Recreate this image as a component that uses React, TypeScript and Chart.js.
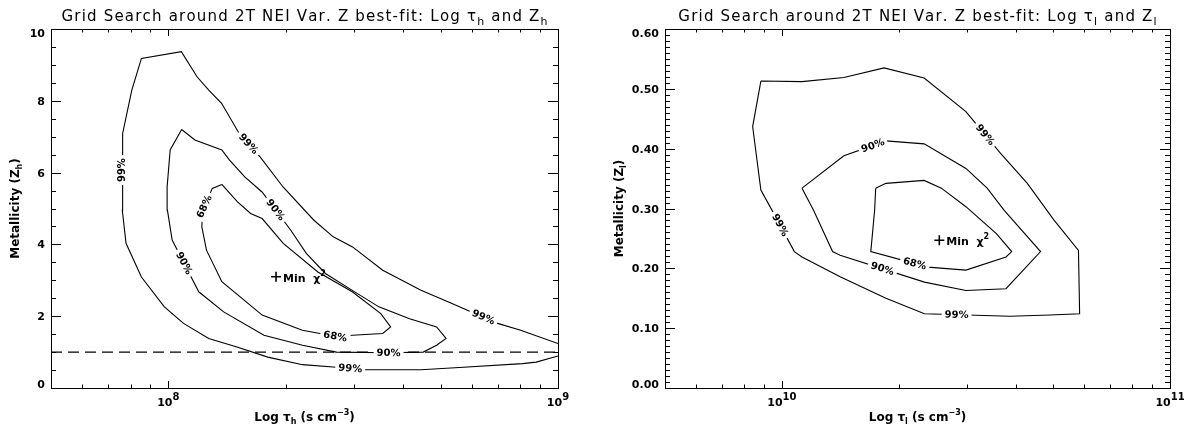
import React, { useEffect, useRef } from "react";
import { Chart, registerables } from "chart.js";
Chart.register(...registerables);

type P = { x: number; y: number };
type Seg = { t: string; s?: "sub" | "sup" };
type CLabel = { ds: number; x: number; y: number; t: string; up?: boolean };

const FONT = '"DejaVu Sans", "Liberation Sans", sans-serif';

// ---------- Left panel: hot component (tau_h, Z_h) ----------
const hot99: P[] = [
  { x: 1.0e9, y: 0.89 }, { x: 8.79e8, y: 0.72 }, { x: 8.11e8, y: 0.68 }, { x: 5.58e8, y: 0.57 },
  { x: 4.45e8, y: 0.51 }, { x: 3.21e8, y: 0.51 }, { x: 2.7e8, y: 0.58 }, { x: 2.21e8, y: 0.65 },
  { x: 1.8e8, y: 0.86 }, { x: 1.5e8, y: 1.14 }, { x: 1.27e8, y: 1.38 }, { x: 1.094e8, y: 1.8 },
  { x: 9.77e7, y: 2.26 }, { x: 8.53e7, y: 3.09 }, { x: 7.79e7, y: 4.03 }, { x: 7.62e7, y: 4.95 },
  { x: 7.62e7, y: 6.16 }, { x: 7.65e7, y: 7.09 }, { x: 8.06e7, y: 8.3 }, { x: 8.53e7, y: 9.18 },
  { x: 1.08e8, y: 9.37 }, { x: 1.185e8, y: 8.67 }, { x: 1.27e8, y: 8.3 }, { x: 1.37e8, y: 7.93 },
  { x: 1.52e8, y: 7.09 }, { x: 1.72e8, y: 6.44 }, { x: 1.97e8, y: 5.6 }, { x: 2.36e8, y: 4.68 },
  { x: 2.65e8, y: 4.21 }, { x: 2.97e8, y: 3.93 }, { x: 3.55e8, y: 3.28 }, { x: 4.45e8, y: 2.72 },
  { x: 5.22e8, y: 2.4 }, { x: 7.0e8, y: 1.8 }, { x: 8.02e8, y: 1.61 }, { x: 1.0e9, y: 1.24 },
];
const hot90: P[] = [
  { x: 1.082e8, y: 7.2 }, { x: 1.17e8, y: 6.91 }, { x: 1.372e8, y: 6.63 }, { x: 1.436e8, y: 6.35 },
  { x: 1.571e8, y: 5.88 }, { x: 1.74e8, y: 5.46 }, { x: 2.06e8, y: 4.4 }, { x: 2.26e8, y: 3.75 },
  { x: 2.53e8, y: 3.19 }, { x: 2.965e8, y: 2.72 }, { x: 3.47e8, y: 2.26 }, { x: 4.16e8, y: 1.93 },
  { x: 4.88e8, y: 1.7 }, { x: 5.16e8, y: 1.38 }, { x: 4.88e8, y: 1.19 }, { x: 4.51e8, y: 1.0 },
  { x: 3.68e8, y: 0.98 }, { x: 2.7e8, y: 1.0 }, { x: 2.21e8, y: 1.19 }, { x: 1.76e8, y: 1.47 },
  { x: 1.387e8, y: 2.12 }, { x: 1.197e8, y: 2.68 }, { x: 1.023e8, y: 4.12 }, { x: 9.95e7, y: 4.95 },
  { x: 9.93e7, y: 5.6 }, { x: 1.011e8, y: 6.63 }, { x: 1.082e8, y: 7.2 },
];
const hot68: P[] = [
  { x: 1.372e8, y: 5.67 }, { x: 1.297e8, y: 5.56 }, { x: 1.225e8, y: 4.95 }, { x: 1.219e8, y: 4.49 },
  { x: 1.253e8, y: 3.84 }, { x: 1.372e8, y: 2.96 }, { x: 1.741e8, y: 2.03 }, { x: 2.208e8, y: 1.61 },
  { x: 2.68e8, y: 1.44 }, { x: 3.55e8, y: 1.52 }, { x: 3.72e8, y: 1.7 }, { x: 3.51e8, y: 2.07 },
  { x: 2.965e8, y: 2.68 }, { x: 2.42e8, y: 3.23 }, { x: 1.972e8, y: 4.03 }, { x: 1.741e8, y: 4.72 },
  { x: 1.626e8, y: 4.86 }, { x: 1.503e8, y: 5.19 }, { x: 1.372e8, y: 5.67 },
];
const hotMin: P[] = [{ x: 1.89e8, y: 3.1 }];
const hotSolarZ = 1.0;
const hotLabels: CLabel[] = [
  { ds: 0, x: 7.59e7, y: 6.07, t: "99%", up: true },
  { ds: 0, x: 1.609e8, y: 6.81, t: "99%" },
  { ds: 0, x: 6.47e8, y: 2.03, t: "99%" },
  { ds: 0, x: 2.93e8, y: 0.55, t: "99%" },
  { ds: 1, x: 1.876e8, y: 4.95, t: "90%" },
  { ds: 1, x: 1.094e8, y: 3.47, t: "90%" },
  { ds: 1, x: 3.675e8, y: 0.98, t: "90%" },
  { ds: 2, x: 1.239e8, y: 5.05, t: "68%", up: true },
  { ds: 2, x: 2.68e8, y: 1.44, t: "68%" },
];
const hotXMajor = [1e8, 1e9];
const hotXExp = ["8", "9"];
const hotXMinor = [6e7, 7e7, 8e7, 9e7, 2e8, 3e8, 4e8, 5e8, 6e8, 7e8, 8e8, 9e8];
const hotYMajor = [0, 2, 4, 6, 8, 10];
const hotYLabels = ["0", "2", "4", "6", "8", "10"];
const hotYMinor = [0.5, 1, 1.5, 2.5, 3, 3.5, 4.5, 5, 5.5, 6.5, 7, 7.5, 8.5, 9, 9.5];

// ---------- Right panel: cool component (tau_l, Z_l) ----------
const cool99: P[] = [
  { x: 8.83e9, y: 0.513 }, { x: 1.127e10, y: 0.512 }, { x: 1.445e10, y: 0.519 }, { x: 1.834e10, y: 0.535 },
  { x: 2.326e10, y: 0.518 }, { x: 2.98e10, y: 0.462 }, { x: 3.66e10, y: 0.392 }, { x: 4.29e10, y: 0.342 },
  { x: 5.02e10, y: 0.281 }, { x: 5.81e10, y: 0.23 }, { x: 5.85e10, y: 0.124 }, { x: 4.91e10, y: 0.122 },
  { x: 3.87e10, y: 0.12 }, { x: 2.33e10, y: 0.124 }, { x: 1.854e10, y: 0.15 }, { x: 1.413e10, y: 0.186 },
  { x: 1.127e10, y: 0.219 }, { x: 1.077e10, y: 0.228 }, { x: 9.64e9, y: 0.286 }, { x: 8.83e9, y: 0.331 },
  { x: 8.41e9, y: 0.437 }, { x: 8.83e9, y: 0.513 },
];
const cool90: P[] = [
  { x: 1.127e10, y: 0.334 }, { x: 1.445e10, y: 0.388 }, { x: 1.854e10, y: 0.413 }, { x: 2.326e10, y: 0.408 },
  { x: 2.98e10, y: 0.367 }, { x: 3.38e10, y: 0.334 }, { x: 3.74e10, y: 0.297 }, { x: 4.64e10, y: 0.228 },
  { x: 3.78e10, y: 0.166 }, { x: 2.98e10, y: 0.163 }, { x: 2.33e10, y: 0.177 }, { x: 1.413e10, y: 0.222 },
  { x: 1.351e10, y: 0.228 }, { x: 1.207e10, y: 0.297 }, { x: 1.127e10, y: 0.334 },
];
const cool68: P[] = [
  { x: 1.745e10, y: 0.334 }, { x: 1.854e10, y: 0.342 }, { x: 2.326e10, y: 0.347 }, { x: 2.576e10, y: 0.334 },
  { x: 2.98e10, y: 0.303 }, { x: 3.57e10, y: 0.258 }, { x: 3.91e10, y: 0.228 }, { x: 3.78e10, y: 0.219 },
  { x: 2.98e10, y: 0.197 }, { x: 2.38e10, y: 0.202 }, { x: 1.695e10, y: 0.228 }, { x: 1.734e10, y: 0.297 },
  { x: 1.745e10, y: 0.334 },
];
const coolMin: P[] = [{ x: 2.545e10, y: 0.247 }];
const coolLabels: CLabel[] = [
  { ds: 0, x: 3.34e10, y: 0.423, t: "99%" },
  { ds: 0, x: 1.007e10, y: 0.275, t: "99%" },
  { ds: 0, x: 2.82e10, y: 0.122, t: "99%" },
  { ds: 1, x: 1.714e10, y: 0.406, t: "90%" },
  { ds: 1, x: 1.813e10, y: 0.198, t: "90%" },
  { ds: 2, x: 2.2e10, y: 0.208, t: "68%" },
];
const coolXMajor = [1e10, 1e11];
const coolXExp = ["10", "11"];
const coolXMinor = [6e9, 7e9, 8e9, 9e9, 2e10, 3e10, 4e10, 5e10, 6e10, 7e10, 8e10, 9e10];
const coolYMajor = [0, 0.1, 0.2, 0.3, 0.4, 0.5, 0.6];
const coolYLabels = ["0.00", "0.10", "0.20", "0.30", "0.40", "0.50", "0.60"];
const coolYMinor: number[] = [];
for (let i = 1; i < 60; i++) if (i % 10 !== 0) coolYMinor.push(i / 100);

type Spec = {
  key: string;
  title: Seg[]; xTitle: Seg[]; yTitle: Seg[]; yTitleX: number;
  xMin: number; xMax: number; yMin: number; yMax: number;
  xMajor: number[]; xExp: string[]; xMinor: number[];
  yMajor: number[]; yLabels: string[]; yMinor: number[];
  contours: P[][]; labels: CLabel[]; minPoint: P[]; refZ?: number;
  pad: { left: number; right: number; top: number; bottom: number };
};

function drawRich(
  ctx: CanvasRenderingContext2D, segs: Seg[], x: number, y: number, size: number, weight: string,
  align: "left" | "center" | "right", small = 0.72, rise = 0.45, drop = 0.28, spacing = 0
) {
  const fonts = segs.map((g) => `${weight} ${Math.round(g.s ? size * small : size)}px ${FONT}`);
  const charW: number[][] = [];
  let w = 0;
  segs.forEach((g, i) => {
    ctx.font = fonts[i];
    const arr = Array.from(g.t).map((ch) => ctx.measureText(ch).width + spacing);
    charW.push(arr);
    w += arr.reduce((a, b) => a + b, 0);
  });
  w -= spacing;
  let cx = align === "center" ? x - w / 2 : align === "right" ? x - w : x;
  ctx.textAlign = "left";
  ctx.textBaseline = "alphabetic";
  segs.forEach((g, i) => {
    ctx.font = fonts[i];
    const dy = g.s === "sub" ? size * drop : g.s === "sup" ? -size * rise : 0;
    if (spacing === 0) {
      ctx.fillText(g.t, cx, y + dy);
      cx += charW[i].reduce((a, b) => a + b, 0);
    } else {
      Array.from(g.t).forEach((ch, k) => {
        ctx.fillText(ch, cx, y + dy);
        cx += charW[i][k];
      });
    }
  });
}

function panelPlugin(spec: Spec) {
  return {
    id: "panel" + spec.key,
    afterDatasetsDraw(chart: any) {
      const ctx: CanvasRenderingContext2D = chart.ctx;
      const { left: L, right: R, top: T, bottom: B } = chart.chartArea;
      const xs = chart.scales.x, ys = chart.scales.y;
      ctx.save();
      ctx.fillStyle = "#000";
      // contour labels
      ctx.font = `bold 10px ${FONT}`;
      for (const lab of spec.labels) {
        const pts = (chart.data.datasets[lab.ds].data as P[]).map((p) => ({
          x: xs.getPixelForValue(p.x), y: ys.getPixelForValue(p.y),
        }));
        const qx = xs.getPixelForValue(lab.x), qy = ys.getPixelForValue(lab.y);
        let best = { d: Infinity, x: qx, y: qy, a: 0 };
        for (let i = 0; i < pts.length - 1; i++) {
          const a = pts[i], b = pts[i + 1];
          const dx = b.x - a.x, dy = b.y - a.y;
          const len2 = dx * dx + dy * dy || 1;
          let t = ((qx - a.x) * dx + (qy - a.y) * dy) / len2;
          t = Math.max(0, Math.min(1, t));
          const sx = a.x + t * dx, sy = a.y + t * dy;
          const d = Math.hypot(qx - sx, qy - sy);
          if (d < best.d) best = { d, x: sx, y: sy, a: Math.atan2(dy, dx) };
        }
        let ang = best.a;
        if (ang > Math.PI / 2) ang -= Math.PI;
        if (ang <= -Math.PI / 2) ang += Math.PI;
        if (lab.up && ang > 0) ang -= Math.PI;
        const w = ctx.measureText(lab.t).width;
        ctx.save();
        ctx.translate(best.x, best.y);
        ctx.rotate(ang);
        ctx.fillStyle = "#fff";
        ctx.fillRect(-w / 2 - 3, -5, w + 6, 10);
        ctx.fillStyle = "#000";
        ctx.textAlign = "center";
        ctx.textBaseline = "middle";
        ctx.fillText(lab.t, 0, 0.5);
        ctx.restore();
      }
      // min chi^2 text
      const mp = spec.minPoint[0];
      drawRich(ctx, [{ t: "Min  \u03c7" }, { t: "2", s: "sup" }],
        xs.getPixelForValue(mp.x) + 7, ys.getPixelForValue(mp.y) + 5, 11, "bold", "left", 0.75, 0.55);
      // box + ticks
      ctx.strokeStyle = "#000";
      ctx.lineWidth = 1;
      const c = (v: number) => Math.round(v) + 0.5;
      ctx.strokeRect(c(L), c(T), Math.round(R) - Math.round(L), Math.round(B) - Math.round(T));
      ctx.beginPath();
      const ylen = 10, xlen = 7;
      const yt = (v: number, len: number) => {
        const y = c(ys.getPixelForValue(v));
        ctx.moveTo(L, y); ctx.lineTo(L + len, y);
        ctx.moveTo(R, y); ctx.lineTo(R - len, y);
      };
      const xt = (v: number, len: number) => {
        const x = c(xs.getPixelForValue(v));
        ctx.moveTo(x, B); ctx.lineTo(x, B - len);
        ctx.moveTo(x, T); ctx.lineTo(x, T + len);
      };
      spec.yMajor.forEach((v) => yt(v, ylen));
      spec.yMinor.forEach((v) => yt(v, ylen / 2));
      spec.xMajor.forEach((v) => xt(v, xlen));
      spec.xMinor.forEach((v) => xt(v, xlen / 2));
      ctx.stroke();
      // y tick labels
      ctx.font = `bold 11px ${FONT}`;
      ctx.textAlign = "right";
      ctx.textBaseline = "alphabetic";
      spec.yMajor.forEach((v, i) => {
        const py = Math.max(T + 4, Math.min(B - 4, ys.getPixelForValue(v)));
        ctx.fillText(spec.yLabels[i], L - 6, py + 4);
      });
      // x tick labels
      spec.xMajor.forEach((v, i) => {
        drawRich(ctx, [{ t: "10" }, { t: spec.xExp[i], s: "sup" }], xs.getPixelForValue(v), B + 18, 11, "bold", "center", 0.9, 0.55);
      });
      // titles
      drawRich(ctx, spec.title, (L + R) / 2, 21, 15, "normal", "center", 0.7, 0.45, 0.25, 1.2);
      drawRich(ctx, spec.xTitle, (L + R) / 2, 421, 12, "bold", "center", 0.7, 0.5, 0.25);
      ctx.save();
      ctx.translate(spec.yTitleX, (T + B) / 2);
      ctx.rotate(-Math.PI / 2);
      drawRich(ctx, spec.yTitle, 0, 0, 12, "bold", "center", 0.7, 0.5, 0.25);
      ctx.restore();
      ctx.restore();
    },
  };
}

function Panel({ spec, left, width }: { spec: Spec; left: number; width: number }) {
  const ref = useRef<HTMLCanvasElement>(null);
  useEffect(() => {
    const datasets: any[] = spec.contours.map((d) => ({
      data: d, showLine: true, borderColor: "#000", borderWidth: 1.1, pointRadius: 0, fill: false, tension: 0,
    }));
    if (spec.refZ !== undefined) {
      datasets.push({
        data: [{ x: spec.xMin, y: spec.refZ }, { x: spec.xMax, y: spec.refZ }],
        showLine: true, borderColor: "#000", borderWidth: 1.2, borderDash: [11, 6], pointRadius: 0,
      });
    }
    datasets.push({
      data: spec.minPoint, showLine: false, pointStyle: "cross", pointRadius: 5,
      borderColor: "#000", borderWidth: 1.6, backgroundColor: "#000",
    });
    const chart = new Chart(ref.current!, {
      type: "scatter",
      data: { datasets },
      options: {
        responsive: false,
        animation: false,
        devicePixelRatio: 1,
        events: [],
        layout: { padding: spec.pad },
        plugins: { legend: { display: false }, tooltip: { enabled: false } },
        scales: {
          x: { type: "logarithmic", min: spec.xMin, max: spec.xMax, display: false },
          y: { type: "linear", min: spec.yMin, max: spec.yMax, display: false },
        },
      },
      plugins: [panelPlugin(spec)],
    } as any);
    return () => chart.destroy();
  }, []);
  return (
    <canvas ref={ref} width={width} height={427}
      style={{ position: "absolute", left, top: 0, width, height: 427 }} />
  );
}

const hotSpec: Spec = {
  key: "hot",
  title: [{ t: "Grid Search around 2T NEI Var. Z best-fit: Log \u03c4" }, { t: "h", s: "sub" }, { t: " and Z" }, { t: "h", s: "sub" }],
  xTitle: [{ t: "Log \u03c4" }, { t: "h", s: "sub" }, { t: " (s cm" }, { t: "\u22123", s: "sup" }, { t: ")" }],
  yTitle: [{ t: "Metallicity (Z" }, { t: "h", s: "sub" }, { t: ")" }],
  yTitleX: 19,
  xMin: 5e7, xMax: 1e9, yMin: 0, yMax: 10,
  xMajor: hotXMajor, xExp: hotXExp, xMinor: hotXMinor,
  yMajor: hotYMajor, yLabels: hotYLabels, yMinor: hotYMinor,
  contours: [hot99, hot90, hot68], labels: hotLabels, minPoint: hotMin, refZ: hotSolarZ,
  pad: { left: 51, right: 39, top: 29, bottom: 39 },
};

const coolSpec: Spec = {
  key: "cool",
  title: [{ t: "Grid Search around 2T NEI Var. Z best-fit: Log \u03c4" }, { t: "l", s: "sub" }, { t: " and Z" }, { t: "l", s: "sub" }],
  xTitle: [{ t: "Log \u03c4" }, { t: "l", s: "sub" }, { t: " (s cm" }, { t: "\u22123", s: "sup" }, { t: ")" }],
  yTitle: [{ t: "Metallicity (Z" }, { t: "l", s: "sub" }, { t: ")" }],
  yTitleX: 26,
  xMin: 5e9, xMax: 1e11, yMin: 0, yMax: 0.6,
  xMajor: coolXMajor, xExp: coolXExp, xMinor: coolXMinor,
  yMajor: coolYMajor, yLabels: coolYLabels, yMinor: coolYMinor,
  contours: [cool99, cool90, cool68], labels: coolLabels, minPoint: coolMin,
  pad: { left: 68, right: 25, top: 29, bottom: 39 },
};

export default function App() {
  return (
    <div style={{ position: "absolute", left: 0, top: 0, width: 1195, height: 427, background: "#fff", overflow: "hidden" }}>
      <Panel spec={hotSpec} left={0} width={597} />
      <Panel spec={coolSpec} left={597} width={598} />
    </div>
  );
}
